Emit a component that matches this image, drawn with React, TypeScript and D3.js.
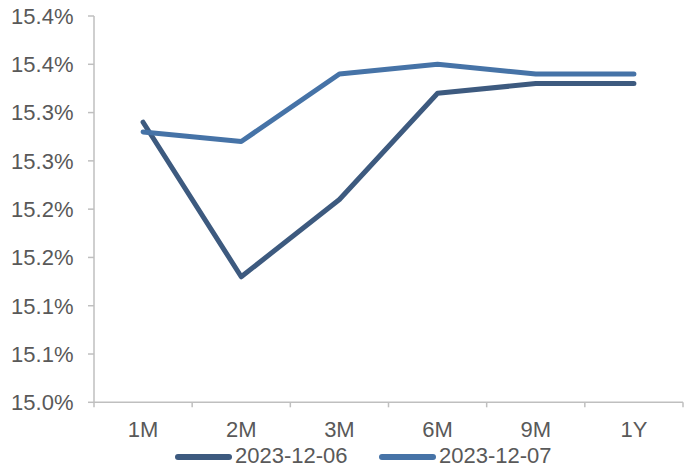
import React from "react";
import * as d3 from "d3";

const categories = ["1M", "2M", "3M", "6M", "9M", "1Y"];
const seriesNames = ["2023-12-06", "2023-12-07"];
const series0612 = [15.29, 15.13, 15.21, 15.32, 15.33, 15.33];
const series0712 = [15.28, 15.27, 15.34, 15.35, 15.34, 15.34];
const yTickValues = [15.0, 15.05, 15.1, 15.15, 15.2, 15.25, 15.3, 15.35, 15.4];
const yTickLabels = ["15.0%", "15.1%", "15.1%", "15.2%", "15.2%", "15.3%", "15.3%", "15.4%", "15.4%"];

const W = 694;
const H = 468;
const left = 94;
const right = 683;
const top = 16;
const bottom = 402.3;
const colors = ["#3d5a7f", "#4673a7"];
const font = "'Liberation Sans', Arial, sans-serif";
const textColor = "#595959";
const axisColor = "#bfbfbf";
const fs = 22;

export default function App() {
  const x = d3.scaleBand<string>().domain(categories).range([left, right]).padding(0);
  const y = d3.scaleLinear().domain([15.0, 15.4]).range([bottom, top]);
  const line = d3
    .line<number>()
    .x((_, i) => (x(categories[i]) as number) + x.bandwidth() / 2)
    .y((d) => y(d));
  const data = [series0612, series0712];
  const boundaries = categories.map((c) => x(c) as number).concat([right]);

  return (
    <svg
      width={W}
      height={H}
      style={{ position: "absolute", left: 0, top: 0, display: "block", background: "#fff" }}
      fontFamily={font}
    >
      {/* y axis */}
      <line x1={left} x2={left} y1={top} y2={bottom} stroke={axisColor} strokeWidth={1.5} />
      {yTickValues.map((v, i) => (
        <g key={i}>
          <line x1={left - 6} x2={left} y1={y(v)} y2={y(v)} stroke={axisColor} strokeWidth={1.5} />
          <text x={73.5} y={y(v) + 7.8} textAnchor="end" fontSize={fs} fill={textColor}>
            {yTickLabels[i]}
          </text>
        </g>
      ))}
      {/* x axis */}
      <line x1={left} x2={right} y1={bottom} y2={bottom} stroke={axisColor} strokeWidth={1.5} />
      {boundaries.map((bx, i) => (
        <line key={i} x1={bx} x2={bx} y1={bottom} y2={bottom + 5} stroke={axisColor} strokeWidth={1.5} />
      ))}
      {categories.map((c) => (
        <text
          key={c}
          x={(x(c) as number) + x.bandwidth() / 2}
          y={437}
          textAnchor="middle"
          fontSize={fs}
          fill={textColor}
        >
          {c}
        </text>
      ))}
      {/* lines */}
      {data.map((s, i) => (
        <path
          key={i}
          d={line(s) as string}
          fill="none"
          stroke={colors[i]}
          strokeWidth={5}
          strokeLinecap="round"
          strokeLinejoin="round"
        />
      ))}
      {/* legend */}
      {seriesNames.map((n, i) => {
        const lx = i === 0 ? 178 : 382;
        return (
          <g key={n}>
            <line x1={lx} x2={lx + 51} y1={457} y2={457} stroke={colors[i]} strokeWidth={6} strokeLinecap="round" />
            <text x={lx + 57} y={463} fontSize={fs} fill={textColor}>
              {n}
            </text>
          </g>
        );
      })}
    </svg>
  );
}
